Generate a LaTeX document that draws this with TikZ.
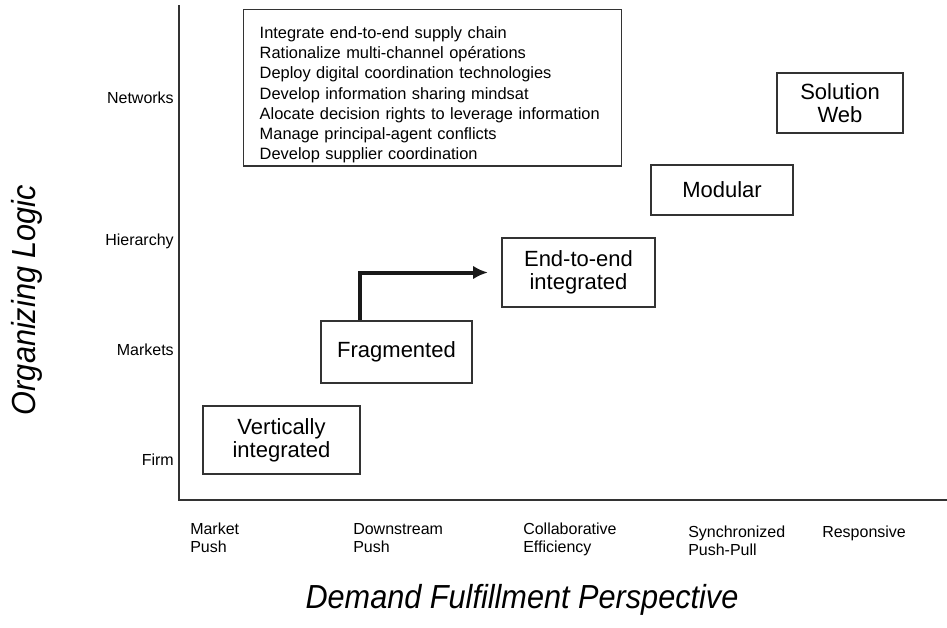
\documentclass[tikz,border=0pt]{standalone}
\usepackage{fontspec}
\setmainfont{Liberation Sans}
\newfontfamily\titlefont{Liberation Sans}[FakeStretch=0.92]
\usetikzlibrary{
  arrows.meta,
  positioning,
  calc
}

\begin{document}
\begin{tikzpicture}[
  x=0.75pt, y=-0.75pt,
  box/.style={draw=black!80, line width=1.1pt, align=center, inner sep=2pt, font=\fontsize{16.5}{17.5}\selectfont},
  axislabel/.style={inner sep=0pt, anchor=east, font=\fontsize{12}{13.5}\selectfont},
  ticklabel/.style={inner sep=0pt, align=left, anchor=north west, font=\fontsize{12}{13.5}\selectfont},
  axistitle/.style={inner sep=0pt, font=\titlefont\itshape\fontsize{25}{28}\selectfont},
  axis/.style={line width=1.8pt, black!80},
  arrow/.style={-{Latex[length=11pt,width=10pt]}, line width=3pt, black!90}
]
\path[fill=white] (0,0) rectangle (947,628);
\useasboundingbox (0,0) rectangle (947,628);

\coordinate (ytop) at (179,5);
\coordinate (xend) at (947,500);
\draw[axis] (ytop) |- (xend);

\node[box, anchor=north west, align=left, text width=259.5pt, inner xsep=12pt, minimum height=115.5pt,
  text height=19.5pt, font=\fontsize{12.3}{15.2}\selectfont] (actions) at (243,9)
{Integrate end-to-end supply chain\\
Rationalize multi-channel opérations\\
Deploy digital coordination technologies\\
Develop information sharing mindsat\\
Alocate decision rights to leverage information\\
Manage principal-agent conflicts\\
Develop supplier coordination};

\node[box, minimum width=94.5pt, minimum height=45pt] (solweb) at (840,103) {Solution\\Web};
\node[box, minimum width=106.5pt, minimum height=37.5pt] (modular) at (722,190) {Modular};
\node[box, minimum width=114.8pt, minimum height=51.8pt] (e2e) at (578.5,272.5) {End-to-end\\integrated};
\node[box, minimum width=113.3pt, minimum height=46.5pt] (frag) at (396.5,352) {Fragmented};
\node[box, minimum width=117.8pt, minimum height=51pt] (vint) at (281.5,440) {Vertically\\integrated};

\draw[arrow, shorten >=10pt] ([xshift=-27.4pt]frag.north) |- (e2e.west);

\node[axislabel] (networks) at (174,98) {Networks};
\node[axislabel] (hierarchy) at (174,241) {Hierarchy};
\node[axislabel] (markets) at (174,350) {Markets};
\node[axislabel] (firm) at (174,460) {Firm};

\node[ticklabel] (marketpush) at (190,523) {Market\\Push};
\node[ticklabel] (downpush) at (353,523) {Downstream\\Push};
\node[ticklabel] (collab) at (523,523) {Collaborative\\Efficiency};
\node[ticklabel] (synch) at (688,526) {Synchronized\\Push-Pull};
\node[ticklabel] (responsive) at (822,526) {Responsive};

\node[axistitle] (demand) at (522,600) {Demand Fulfillment Perspective};
\node[axistitle, rotate=90] (orglogic) at (27,300) {Organizing Logic};
\end{tikzpicture}
\end{document}
